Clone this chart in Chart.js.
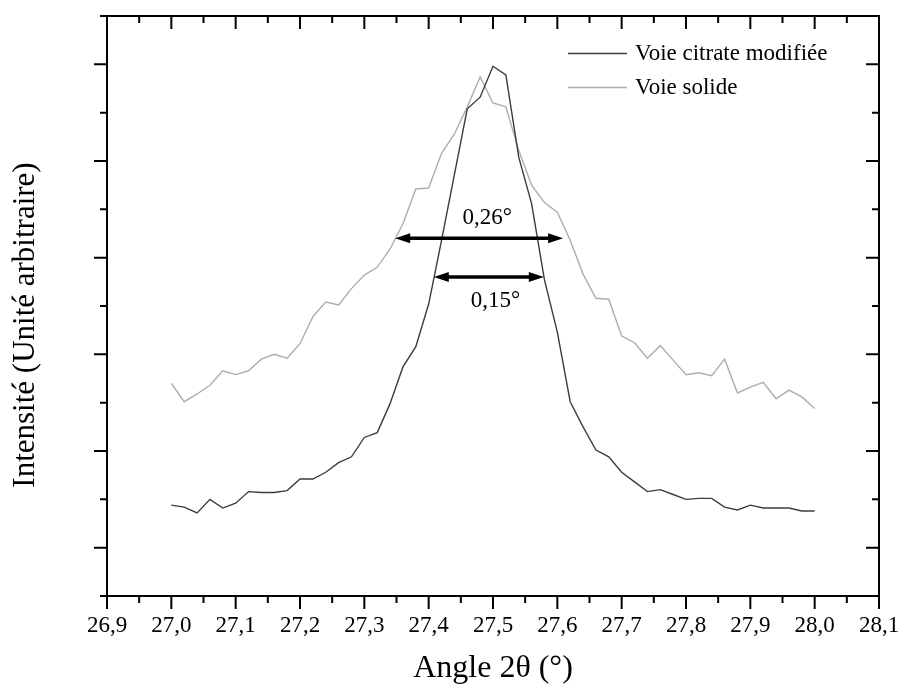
<!DOCTYPE html>
<html>
<head>
<meta charset="utf-8">
<script src="https://cdn.jsdelivr.net/npm/chart.js@4.4.0/dist/chart.umd.min.js"></script>
<style>
  html, body { margin: 0; padding: 0; background: #fff; }
</style>
</head>
<body>
<canvas id="xrd" width="899" height="688"></canvas>
<script>
// 2 theta (degrees)
const angles = [27.00, 27.02, 27.04, 27.06, 27.08, 27.10, 27.12, 27.14, 27.16, 27.18,
                27.20, 27.22, 27.24, 27.26, 27.28, 27.30, 27.32, 27.34, 27.36, 27.38,
                27.40, 27.42, 27.44, 27.46, 27.48, 27.50, 27.52, 27.54, 27.56, 27.58,
                27.60, 27.62, 27.64, 27.66, 27.68, 27.70, 27.72, 27.74, 27.76, 27.78,
                27.80, 27.82, 27.84, 27.86, 27.88, 27.90, 27.92, 27.94, 27.96, 27.98, 28.00];

// intensities (arbitrary units)
const citrate = [94, 92, 86, 100, 91, 96, 108, 107, 107, 109,
                 121, 121, 128, 138, 144, 164, 169, 199, 237, 258,
                 302, 368, 436, 504, 516, 548, 539, 454, 406, 327,
                 273, 201, 175, 151, 144, 128, 118, 108, 110, 105,
                 100, 101, 101, 92, 89, 94, 91, 91, 91, 88, 88];
const solide = [220, 201, 209, 218, 233, 229, 233, 245, 250, 246,
                261, 289, 304, 301, 318, 332, 340, 359, 385, 421,
                422, 458, 478, 506, 537, 510, 506, 461, 425, 407,
                397, 368, 333, 308, 307, 269, 262, 246, 259, 244,
                229, 231, 228, 245, 210, 216, 221, 204, 213, 206, 194];

const seriesNames = ['Voie citrate modifiée', 'Voie solide'];

// FWHM arrows
const widthLabels = ['0,26°', '0,15°'];
const widthFrom = [27.348, 27.408];
const widthTo = [27.609, 27.579];
const widthLevel = [370, 330];
const labelX = [27.491, 27.504];
const labelY = [385, 299];

const serif = 'Liberation Serif, Times New Roman, serif';

function arrowHead(ctx, x, y, dir) {
  ctx.beginPath();
  ctx.moveTo(x, y);
  ctx.lineTo(x - dir * 15, y - 5);
  ctx.lineTo(x - dir * 15, y + 5);
  ctx.closePath();
  ctx.fill();
}

const decor = {
  id: 'decor',
  afterDraw(chart) {
    const ctx = chart.ctx, a = chart.chartArea;
    const xs = chart.scales.x, ys = chart.scales.y;
    ctx.save();

    // arrows + labels
    ctx.fillStyle = '#000';
    ctx.strokeStyle = '#000';
    ctx.lineWidth = 3.5;
    ctx.font = '23px ' + serif;
    ctx.textAlign = 'center';
    ctx.textBaseline = 'alphabetic';
    for (let i = 0; i < widthLabels.length; i++) {
      const x1 = xs.getPixelForValue(widthFrom[i]);
      const x2 = xs.getPixelForValue(widthTo[i]);
      const y = ys.getPixelForValue(widthLevel[i]);
      ctx.beginPath();
      ctx.moveTo(x1 + 12, y);
      ctx.lineTo(x2 - 12, y);
      ctx.stroke();
      arrowHead(ctx, x1, y, -1);
      arrowHead(ctx, x2, y, 1);
      ctx.fillText(widthLabels[i], xs.getPixelForValue(labelX[i]), ys.getPixelForValue(labelY[i]));
    }

    // frame
    ctx.lineWidth = 2;
    ctx.strokeRect(a.left, a.top, a.right - a.left, a.bottom - a.top);

    // tick marks
    ctx.beginPath();
    for (let i = 0; i <= 24; i++) {
      const px = xs.getPixelForValue(26.9 + i * 0.05);
      const len = i % 2 ? 7 : 13;
      ctx.moveTo(px, a.bottom); ctx.lineTo(px, a.bottom + len);
      ctx.moveTo(px, a.top); ctx.lineTo(px, a.top + len);
    }
    for (let k = 0; k <= 12; k++) {
      const py = ys.getPixelForValue(k * 50);
      const len = k % 2 ? 13 : 7;
      ctx.moveTo(a.left, py); ctx.lineTo(a.left - len, py);
      ctx.moveTo(a.right, py); ctx.lineTo(a.right - len, py);
    }
    ctx.stroke();

    // legend
    ctx.font = '23px ' + serif;
    ctx.textAlign = 'left';
    ctx.textBaseline = 'middle';
    chart.data.datasets.forEach((ds, i) => {
      const y = 53.5 + i * 34;
      ctx.strokeStyle = ds.borderColor;
      ctx.lineWidth = 1.5;
      ctx.beginPath();
      ctx.moveTo(568, y);
      ctx.lineTo(627, y);
      ctx.stroke();
      ctx.fillStyle = '#000';
      ctx.fillText(ds.label, 635, y);
    });

    // y title
    ctx.font = '31px ' + serif;
    ctx.textAlign = 'center';
    ctx.translate(26, 325);
    ctx.rotate(-Math.PI / 2);
    ctx.fillText('Intensité (Unité arbitraire)', 0, 0);
    ctx.restore();
  }
};

new Chart(document.getElementById('xrd'), {
  type: 'line',
  data: {
    datasets: [
      {
        label: seriesNames[0],
        data: angles.map((x, i) => ({ x: x, y: citrate[i] })),
        borderColor: '#3c3c3c',
        borderWidth: 1.4,
        pointRadius: 0,
        tension: 0
      },
      {
        label: seriesNames[1],
        data: angles.map((x, i) => ({ x: x, y: solide[i] })),
        borderColor: '#adadad',
        borderWidth: 1.4,
        pointRadius: 0,
        tension: 0
      }
    ]
  },
  options: {
    responsive: false,
    animation: false,
    layout: { padding: { left: 0, top: 16, right: 20, bottom: 0 } },
    plugins: { legend: { display: false }, tooltip: { enabled: false } },
    scales: {
      x: {
        type: 'linear',
        min: 26.9,
        max: 28.1,
        afterFit: s => { s.height = 92; s.paddingLeft = 0; s.paddingRight = 0; },
        border: { display: false },
        grid: { drawOnChartArea: false, drawTicks: true, tickLength: 13, color: 'rgba(0,0,0,0)' },
        ticks: {
          stepSize: 0.1,
          autoSkip: false,
          maxRotation: 0,
          padding: 3,
          color: '#000',
          font: { family: serif, size: 23 },
          callback: v => v.toFixed(1).replace('.', ',')
        },
        title: {
          display: true,
          text: 'Angle 2θ (°)',
          color: '#000',
          font: { family: serif, size: 32 },
          padding: { top: 0, bottom: 0 }
        }
      },
      y: {
        min: 0,
        max: 600,
        afterFit: s => { s.width = 107; },
        border: { display: false },
        grid: { display: false },
        ticks: { display: false }
      }
    }
  },
  plugins: [decor]
});
</script>
</body>
</html>
